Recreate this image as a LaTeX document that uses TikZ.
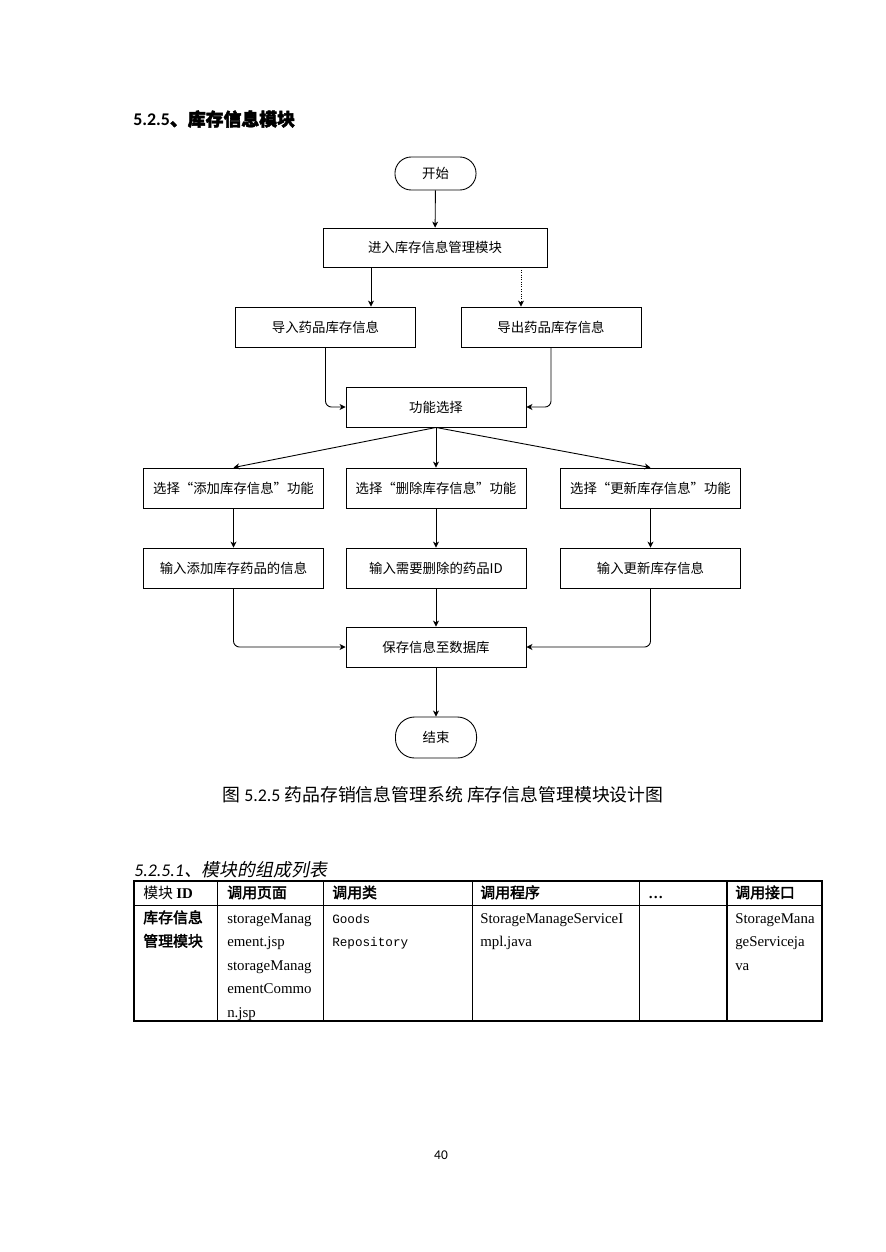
\documentclass[tikz,border=0pt]{standalone}
\usepackage{fontspec}
\setmainfont{Carlito}
\newfontfamily\cjk{Noto Sans CJK SC}
\newfontfamily\cjkb[FakeBold=2.5]{Noto Sans CJK SC}
\newfontfamily\cjki[FakeSlant=0.2]{Noto Sans CJK SC}
\newfontfamily\tms{Liberation Serif}
\newfontfamily\mono{Liberation Mono}
\usetikzlibrary{arrows.meta}
\begin{document}
\begin{tikzpicture}[x=0.672pt,y=-0.672pt]
		\tikzstyle{proc}=[draw,line width=0.6pt,minimum width=121pt,minimum height=26.9pt,inner sep=0pt,font=\cjk\fontsize{9}{11}\selectfont]
		\tikzstyle{term}=[proc,minimum width=54.5pt]
		\tikzstyle{arr}=[-{Stealth[length=4pt,width=4pt,inset=1.2pt]},line width=0.6pt]
		\tikzstyle{cell}=[anchor=base west,inner sep=0pt,font=\tms\fontsize{10}{12}\selectfont]
		\tikzstyle{hcell}=[cell,font=\cjkb\fontsize{10}{12}\selectfont]

		\useasboundingbox (0,0) rectangle (885,1252);

		\node[anchor=west,inner sep=0pt,font=\fontsize{12}{14}\selectfont\bfseries] (title) at (133,119) {5.2.5{\cjkb 、库存信息模块}};

		% flow chart
		\node[term,minimum height=22.2pt,rounded corners=11pt] (start) at (435.5,173.5) {开始};
		\node[proc,minimum width=150.5pt,minimum height=26.2pt] (enter) at (435,247.5) {进入库存信息管理模块};
		\node[proc] (imp) at (325.5,327) {导入药品库存信息};
		\node[proc] (exp) at (551,327) {导出药品库存信息};
		\node[proc] (sel) at (436,407) {功能选择};
		\node[proc] (add) at (233.5,488) {选择“添加库存信息”功能};
		\node[proc] (del) at (436,488) {选择“删除库存信息”功能};
		\node[proc] (upd) at (650.5,488) {选择“更新库存信息”功能};
		\node[proc] (inadd) at (233.5,568) {输入添加库存药品的信息};
		\node[proc] (indel) at (436,568) {输入需要删除的药品ID};
		\node[proc] (inupd) at (650.5,568) {输入更新库存信息};
		\node[proc] (save) at (436,647) {保存信息至数据库};
		\node[term,minimum height=27.6pt,rounded corners=13pt] (stop) at (436,737.5) {结束};

		\path (enter.south) ++(-64,0) coordinate (e1) ++(150,0) coordinate (e2);

		\draw[arr] (start) -- (enter);
		\draw[arr] (e1) -- (e1 |- imp.north);
		\draw[arr,densely dotted] (e2) -- (e2 |- exp.north);
		\draw[arr,rounded corners=4pt] (imp) |- (sel);
		\draw[arr,rounded corners=4pt] (exp) |- (sel);
		\draw[arr] (sel.south) -- (add.north);
		\draw[arr] (sel.south) -- (del.north);
		\draw[arr] (sel.south) -- (upd.north);
		\foreach \a/\b in {add/inadd,del/indel,upd/inupd}
			\draw[arr] (\a) -- (\b);
		\draw[arr,rounded corners=4pt] (inadd) |- (save);
		\draw[arr] (indel) -- (save);
		\draw[arr,rounded corners=4pt] (inupd) |- (save);
		\draw[arr] (save) -- (stop);

		\node[font=\cjk\fontsize{12}{14}\selectfont] (cap) at (443,795) {图 {\rmfamily 5.2.5} 药品存销信息管理系统 库存信息管理模块设计图};

		% table
		\node[anchor=base west,inner sep=0pt,font=\fontsize{12}{14}\selectfont\itshape] (sub) at (134,876) {5.2.5.1{\cjki 、模块的组成列表}};

		\draw[line width=0.5pt] (134,905) -- (822,905);
		\foreach \x in {217.5,323,472,639}
			\draw[line width=0.5pt] (\x,881) -- (\x,1021);
		\draw[line width=1.2pt] (727,881) -- (727,1021);
		\draw[line width=1.2pt] (134,881) rectangle (822,1021);

		\node[cell,font=\cjk\fontsize{10}{12}\selectfont] (hid) at (143,898) {模块 {\tms\bfseries ID}};
		\node[hcell] (hpg) at (227,898) {调用页面};
		\node[hcell] (hcl) at (332,898) {调用类};
		\node[hcell] (hpr) at (480,898) {调用程序};
		\node[cell,font=\tms\bfseries\fontsize{10}{12}\selectfont] (hdt) at (648,898) {…};
		\node[hcell] (hif) at (735,898) {调用接口};

		\foreach \t [count=\i] in {库存信息,管理模块}
			\node[hcell] (md\i) at (143,{923+23.5*(\i-1)}) {\t};
		\foreach \t [count=\i] in {storageManag,ement.jsp,storageManag,ementCommo,n.jsp}
			\node[cell] (pg\i) at (227,{923+23.5*(\i-1)}) {\t};
		\foreach \t [count=\i] in {Goods,Repository}
			\node[cell,font=\mono\fontsize{8.5}{10}\selectfont] (cl\i) at (332,{923+23.5*(\i-1)}) {\t};
		\foreach \t [count=\i] in {StorageManageServiceI,mpl.java}
			\node[cell] (pr\i) at (480,{923+23.5*(\i-1)}) {\t};
		\foreach \t [count=\i] in {StorageMana,geServiceja,va}
			\node[cell] (if\i) at (735,{923+23.5*(\i-1)}) {\t};

		\node[font=\fontsize{9}{10}\selectfont] (pno) at (441,1155) {40};
	\end{tikzpicture}
\end{document}
